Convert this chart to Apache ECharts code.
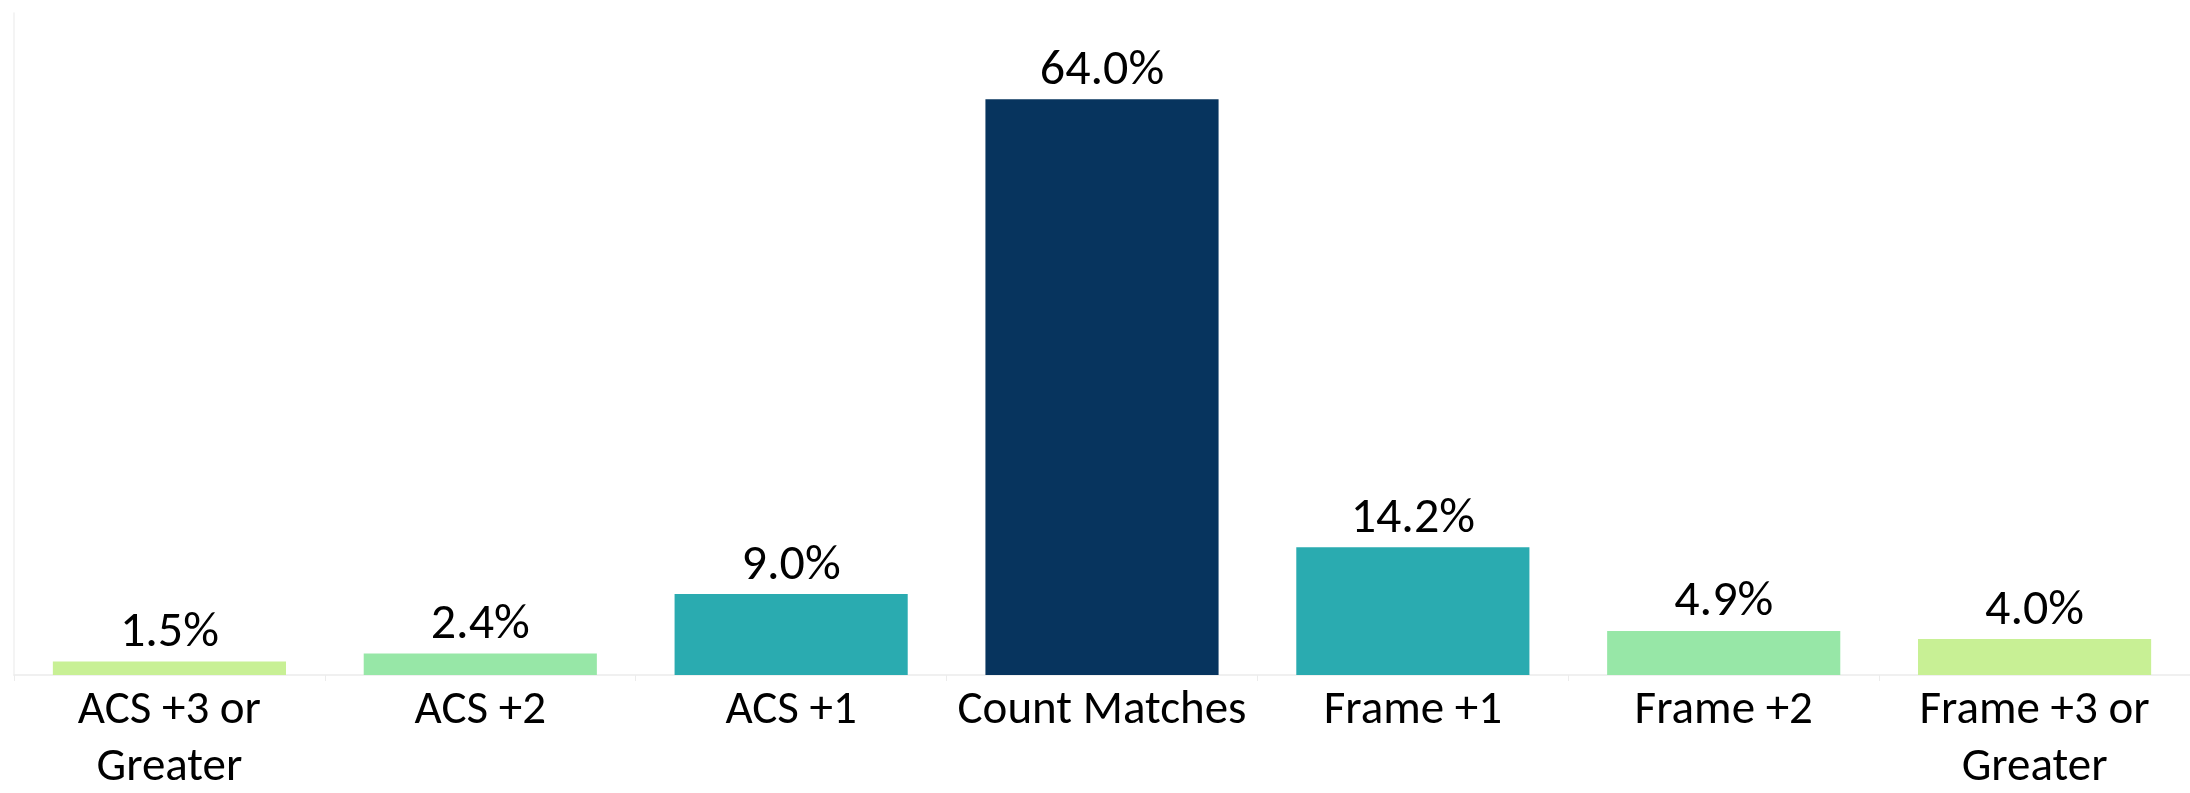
<!DOCTYPE html>
<html>
<head>
<meta charset="utf-8">
<script src="https://cdn.jsdelivr.net/npm/echarts@6/dist/echarts.min.js"></script>
<style>
  html, body { margin: 0; padding: 0; background: #fff; }
  #chart { width: 2190px; height: 793px; }
</style>
</head>
<body>
<div id="chart"></div>
<script>
const categories = ["ACS +3 or\nGreater", "ACS +2", "ACS +1", "Count Matches", "Frame +1", "Frame +2", "Frame +3 or\nGreater"]
const shares = [1.5, 2.4, 9.0, 64.0, 14.2, 4.9, 4.0]
const barColors = ["#c8f095", "#97e7a7", "#2aabb0", "#07345e", "#2aabb0", "#97e7a7", "#c8f095"]

const font = "Carlito, Lato, 'Open Sans', sans-serif"
const chart = echarts.init(document.getElementById("chart"))

chart.setOption({
  animation: false,
  grid: { left: 14, right: 0, top: 13, bottom: 118, outerBoundsMode: "none" },
  xAxis: {
    type: "category",
    data: categories,
    axisLine: { show: true, lineStyle: { color: "#ececec", width: 1.5 } },
    axisTick: { show: true, length: 6, lineStyle: { color: "#ececec" } },
    axisLabel: {
      color: "#000",
      fontFamily: font,
      fontSize: 47,
      lineHeight: 57,
      margin: 8,
      interval: 0
    }
  },
  yAxis: {
    type: "value",
    min: 0,
    max: 73.6,
    axisLine: { show: true, lineStyle: { color: "#f0f0f0", width: 1.5 } },
    axisTick: { show: false },
    axisLabel: { show: false },
    splitLine: { show: false }
  },
  series: [{
    type: "bar",
    barCategoryGap: "25%",
    data: shares.map((v, i) => ({ value: v, itemStyle: { color: barColors[i] } })),
    label: {
      show: true,
      position: "top",
      distance: 3,
      color: "#000",
      fontFamily: font,
      fontSize: 50,
      formatter: (p) => p.value.toFixed(1) + "%"
    }
  }]
})
</script>
</body>
</html>
